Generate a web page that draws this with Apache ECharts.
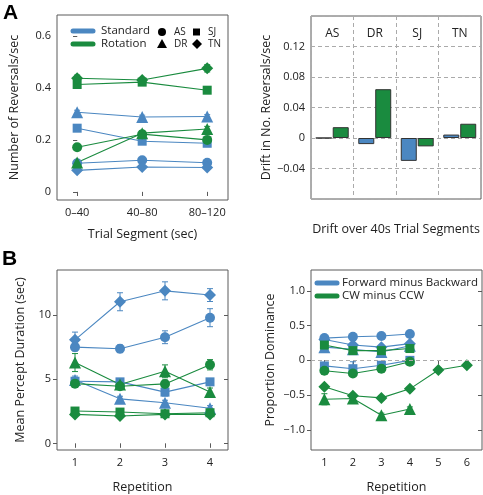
<!DOCTYPE html>
<html><head><meta charset="utf-8">
<script src="https://cdn.jsdelivr.net/npm/echarts@6/dist/echarts.min.js"></script>
<style>html,body{margin:0;padding:0;background:#fff}#c{width:483px;height:495px}</style>
</head><body><div id="c"></div>
<script>
// ---------- data ----------
const segLabels = ['0–40', '40–80', '80–120'];
const subjects = ['AS', 'DR', 'SJ', 'TN'];
const subjectSymbols = ['circle', 'triangle', 'rect', 'diamond'];

// Panel A left: reversals/sec per trial segment
const revStd = {
  AS: [0.110, 0.122, 0.112],
  DR: [0.306, 0.288, 0.290],
  SJ: [0.245, 0.195, 0.187],
  TN: [0.083, 0.096, 0.094]
};
const revStdErr = {
  AS: [0.006, 0.007, 0.006],
  DR: [0.008, 0.007, 0.007],
  SJ: [0.006, 0.006, 0.006],
  TN: [0.005, 0.005, 0.005]
};
const revRot = {
  AS: [0.172, 0.222, 0.200],
  DR: [0.113, 0.226, 0.242],
  SJ: [0.413, 0.422, 0.391],
  TN: [0.437, 0.430, 0.475]
};
const revRotErr = {
  AS: [0.006, 0.008, 0.008],
  DR: [0.010, 0.010, 0.010],
  SJ: [0.006, 0.006, 0.006],
  TN: [0.012, 0.010, 0.014]
};

// Panel A right: drift per 40 s segment
const driftStd = [0.0, -0.008, -0.030, 0.0045];
const driftRot = [0.0142, 0.064, -0.011, 0.0187];

// Panel B left: mean percept duration (sec) by repetition
const durStd = {
  AS: [7.50, 7.37, 8.27, 9.79],
  DR: [4.95, 3.48, 3.17, 2.75],
  SJ: [4.85, 4.80, 4.00, 4.80],
  TN: [8.07, 11.03, 11.88, 11.55]
};
const durStdErr = {
  AS: [0.3, 0.3, 0.5, 0.7],
  DR: [0.3, 0.2, 0.2, 0.2],
  SJ: [0.2, 0.2, 0.3, 0.2],
  TN: [0.6, 0.7, 0.7, 0.5]
};
const durRot = {
  AS: [4.66, 4.46, 4.64, 6.13],
  DR: [6.30, 4.60, 5.62, 4.02],
  SJ: [2.53, 2.45, 2.32, 2.40],
  TN: [2.27, 2.14, 2.27, 2.27]
};
const durRotErr = {
  AS: [0.2, 0.2, 0.3, 0.4],
  DR: [0.7, 0.2, 0.5, 0.3],
  SJ: [0.15, 0.1, 0.1, 0.1],
  TN: [0.1, 0.1, 0.1, 0.1]
};

// Panel B right: proportion dominance by repetition
const domStd = {
  AS: [0.32, 0.34, 0.35, 0.38],
  DR: [0.19, 0.16, 0.12, 0.21],
  SJ: [-0.08, -0.12, -0.07, 0.0],
  TN: [0.30, 0.22, 0.19, 0.24]
};
const domStdErr = {
  AS: [0.02, 0.02, 0.02, 0.02],
  DR: [0.02, 0.02, 0.02, 0.02],
  SJ: [0.03, 0.10, 0.03, 0.02],
  TN: [0.02, 0.02, 0.02, 0.02]
};
const domRot = {
  AS: [-0.15, -0.19, -0.12, -0.02],
  DR: [-0.56, -0.55, -0.79, -0.70],
  SJ: [0.22, 0.14, 0.14, 0.17],
  TN: [-0.38, -0.51, -0.54, -0.41, -0.14, -0.07]
};
const domRotErr = {
  AS: [0.03, 0.03, 0.03, 0.02],
  DR: [0.08, 0.03, 0.03, 0.03],
  SJ: [0.03, 0.03, 0.03, 0.03],
  TN: [0.03, 0.03, 0.03, 0.03, 0.03, 0.03]
};

const yTicksA = [0, 0.2, 0.4, 0.6];
const yTicksBL = [0, 5, 10];
const yTicksBR = [-1, -0.5, 0, 0.5, 1];
const repsBL = [1, 2, 3, 4];
const repsBR = [1, 2, 3, 4, 5, 6];

// ---------- style ----------
const BLUE = '#4b87c1';
const GREEN = '#1a8b3f';
const FONT = 'Open Sans';
const TXT = '#222';
const BOX = '#5a5a5a';
const symSize = {circle: 10, triangle: 12, rect: 9, diamond: 12};

function fmtMinus(v, d) {
  if (Math.abs(v) < 1e-9) return '0';
  return (v < 0 ? '\u2212' : '') + Math.abs(v).toFixed(d);
}

function errRender(params, api) {
  const x = api.value(0), lo = api.value(1), hi = api.value(2);
  const p1 = api.coord([x, lo]), p2 = api.coord([x, hi]);
  const w = 3;
  const style = {stroke: api.visual('color'), lineWidth: 1};
  return {type: 'group', children: [
    {type: 'line', shape: {x1: p1[0], y1: p1[1], x2: p2[0], y2: p2[1]}, style},
    {type: 'line', shape: {x1: p1[0] - w, y1: p1[1], x2: p1[0] + w, y2: p1[1]}, style},
    {type: 'line', shape: {x1: p2[0] - w, y1: p2[1], x2: p2[0] + w, y2: p2[1]}, style}
  ]};
}

const series = [];
function addGroup(valObj, errObj, color, xi, yi, xs) {
  subjects.forEach((s, k) => {
    const vals = valObj[s], errs = errObj[s];
    const xv = xs || vals.map((_, i) => i);
    series.push({
      type: 'custom', xAxisIndex: xi, yAxisIndex: yi, renderItem: errRender,
      itemStyle: {color}, silent: true, z: 2,
      encode: {x: 0, y: [1, 2]},
      data: vals.map((v, i) => [xv[i], v - errs[i], v + errs[i]])
    });
    series.push({
      type: 'line', xAxisIndex: xi, yAxisIndex: yi,
      symbol: subjectSymbols[k], symbolSize: symSize[subjectSymbols[k]],
      lineStyle: {color, width: 1.1}, itemStyle: {color},
      data: vals.map((v, i) => [xv[i], v]), z: 3, animation: false
    });
  });
}

addGroup(revStd, revStdErr, BLUE, 0, 0);
addGroup(revRot, revRotErr, GREEN, 0, 0);
addGroup(durStd, durStdErr, BLUE, 4, 3, repsBL);
addGroup(durRot, durRotErr, GREEN, 4, 3, repsBL);
addGroup(domStd, domStdErr, BLUE, 6, 5, repsBR);
addGroup(domRot, domRotErr, GREEN, 6, 5, repsBR);

series.push({
  type: 'bar', xAxisIndex: 2, yAxisIndex: 2, data: driftStd, barWidth: 16, barGap: '6%',
  itemStyle: {color: BLUE, borderColor: '#333', borderWidth: 1}, animation: false
});
series.push({
  type: 'bar', xAxisIndex: 2, yAxisIndex: 2, data: driftRot, barWidth: 16, barGap: '6%',
  itemStyle: {color: GREEN, borderColor: '#333', borderWidth: 1}, animation: false
});
// zero reference line in B right
series.push({
  type: 'line', xAxisIndex: 6, yAxisIndex: 5, data: [], silent: true,
  markLine: {symbol: 'none', silent: true, label: {show: false},
    lineStyle: {color: '#aaa', type: [4, 3], width: 1}, data: [{yAxis: 0}]}
});

const lab = {color: TXT, fontFamily: FONT, fontSize: 11};
const nameStyle = {color: TXT, fontFamily: FONT, fontSize: 12.5};
const tickOut = {show: true, inside: false, length: 4, lineStyle: {color: BOX}};
const tickIn = {show: true, inside: true, length: 4, lineStyle: {color: BOX}};

function valX(grid, min, max, ticks, fmt, name, gap) {
  return [{
    type: 'value', gridIndex: grid, position: 'bottom', min, max,
    axisLine: {show: false}, splitLine: {show: false},
    axisTick: Object.assign({customValues: ticks}, tickOut),
    axisLabel: Object.assign({customValues: ticks, formatter: fmt, margin: 7}, lab),
    name, nameLocation: 'middle', nameGap: gap, nameTextStyle: nameStyle
  }, {
    type: 'value', gridIndex: grid, position: 'top', min, max,
    axisLine: {show: false}, splitLine: {show: false},
    axisTick: Object.assign({customValues: ticks}, tickIn),
    axisLabel: {show: false}
  }];
}
function valY(grid, min, max, ticks, fmt, name, gap) {
  return [{
    type: 'value', gridIndex: grid, position: 'left', min, max,
    axisLine: {show: false}, splitLine: {show: false},
    axisTick: Object.assign({customValues: ticks}, tickOut),
    axisLabel: Object.assign({customValues: ticks, formatter: fmt, margin: 6}, lab),
    name, nameLocation: 'middle', nameGap: gap, nameTextStyle: nameStyle
  }, {
    type: 'value', gridIndex: grid, position: 'right', min, max,
    axisLine: {show: false}, splitLine: {show: false},
    axisTick: Object.assign({customValues: ticks}, tickIn),
    axisLabel: {show: false}
  }];
}

const xAxes = [].concat(
  valX(0, -0.31, 2.32, [0, 1, 2], v => segLabels[Math.round(v)], 'Trial Segment (sec)', 28),
  [{
    type: 'category', gridIndex: 1, position: 'bottom', data: subjects,
    axisLine: {show: false}, axisTick: {show: false}, axisLabel: {show: false},
    splitLine: {show: true, interval: 0, lineStyle: {color: '#aaa', type: [4, 3]}},
    name: 'Drift over 40s Trial Segments', nameLocation: 'middle', nameGap: 24, nameTextStyle: nameStyle
  }, {
    type: 'category', gridIndex: 1, position: 'top', data: subjects,
    axisLine: {show: false}, axisTick: {show: false},
    axisLabel: Object.assign({inside: true, margin: 12, interval: 0}, lab, {fontSize: 12})
  }],
  valX(2, 0.6, 4.4, repsBL, v => String(v), 'Repetition', 31),
  valX(3, 0.53, 6.53, repsBR, v => String(v), 'Repetition', 31)
);

const yAxes = [].concat(
  valY(0, -0.031, 0.68, yTicksA, v => (Math.abs(v) < 1e-9 ? '0' : String(+v.toFixed(1))), 'Number of Reversals/sec', 36),
  [{
    type: 'value', gridIndex: 1, min: -0.08, max: 0.16, interval: 0.04,
    axisLine: {show: false}, axisTick: {show: false},
    axisLabel: Object.assign({formatter: v => fmtMinus(v, 2), showMinLabel: false, showMaxLabel: false, margin: 6}, lab),
    splitLine: {show: true, lineStyle: {color: '#aaa', type: [4, 3]}},
    name: 'Drift in No. Reversals/sec', nameLocation: 'middle', nameGap: 38, nameTextStyle: nameStyle
  }],
  valY(2, -0.5, 13.5, yTicksBL, v => String(v), 'Mean Percept Duration (sec)', 30),
  valY(3, -1.29, 1.3, yTicksBR, v => (Math.abs(v) < 1e-9 ? '0' : fmtMinus(v, 1)), 'Proportion Dominance', 34)
);

const gridStyle = {show: true, borderColor: BOX, borderWidth: 1, containLabel: false};
const grids = [
  Object.assign({left: 57, top: 15, width: 171, height: 185}, gridStyle),
  Object.assign({left: 311, top: 16, width: 170, height: 183}, gridStyle),
  Object.assign({left: 57, top: 270, width: 171, height: 181}, gridStyle),
  Object.assign({left: 311, top: 270, width: 171, height: 181}, gridStyle)
];

const tStyle = (t, x, y, extra) => ({type: 'text', x, y, style: Object.assign({text: t, fill: TXT, font: '11.5px "Open Sans"', verticalAlign: 'middle'}, extra || {})});
const legendLine = (x1, x2, y, color) => ({type: 'line', shape: {x1, y1: y, x2, y2: y}, style: {stroke: color, lineWidth: 5, lineCap: 'round'}});

const graphic = [
  {type: 'text', x: 3, y: 3, style: {text: 'A', fill: '#000', font: 'bold 21px "Liberation Sans"'}},
  {type: 'text', x: 2, y: 249, style: {text: 'B', fill: '#000', font: 'bold 21px "Liberation Sans"'}},
  legendLine(73, 93, 31, BLUE), legendLine(73, 93, 44, GREEN),
  tStyle('Standard', 101, 31), tStyle('Rotation', 101, 44),
  {type: 'circle', shape: {cx: 162, cy: 32, r: 4}, style: {fill: '#000'}},
  {type: 'polygon', shape: {points: [[162, 39], [157, 48], [167, 48]]}, style: {fill: '#000'}},
  {type: 'rect', shape: {x: 193, y: 28.5, width: 7, height: 7}, style: {fill: '#000'}},
  {type: 'polygon', shape: {points: [[197, 39], [202, 44], [197, 49], [192, 44]]}, style: {fill: '#000'}},
  tStyle('AS', 174, 32, {font: '10px "Open Sans"'}), tStyle('DR', 174, 44, {font: '10px "Open Sans"'}),
  tStyle('SJ', 208, 32, {font: '10px "Open Sans"'}), tStyle('TN', 208, 44, {font: '10px "Open Sans"'}),
  legendLine(317, 337, 283, BLUE), legendLine(317, 337, 296, GREEN),
  tStyle('Forward minus Backward', 342, 283, {font: '11.5px "Open Sans"'}),
  tStyle('CW minus CCW', 342, 296, {font: '11.5px "Open Sans"'})
];

const chart = echarts.init(document.getElementById('c'), null, {renderer: 'canvas'});
chart.setOption({
  animation: false,
  backgroundColor: '#fff',
  grid: grids,
  xAxis: xAxes,
  yAxis: yAxes,
  series,
  graphic
});
</script></body></html>
